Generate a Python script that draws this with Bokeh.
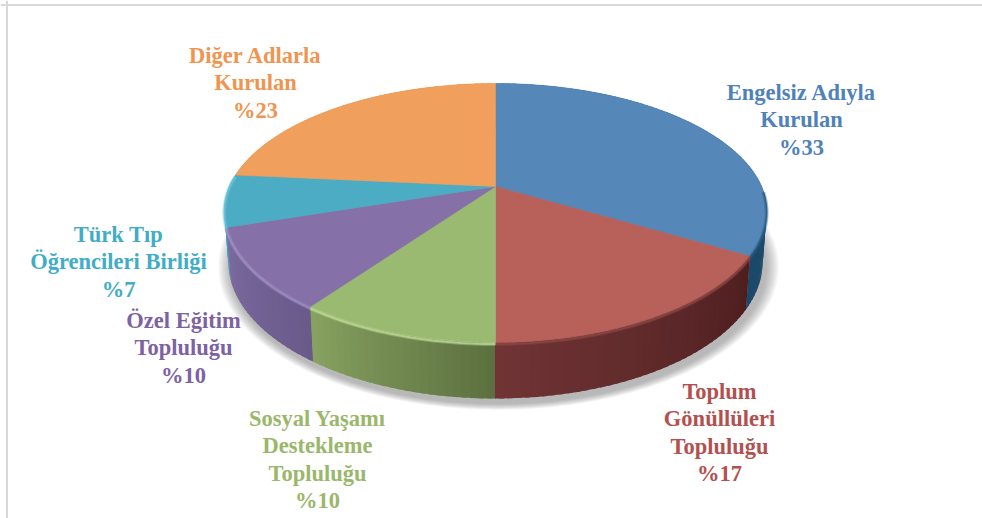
from math import sin, cos, radians
from bokeh.plotting import figure
from bokeh.models import Span
from bokeh.core.properties import value
from bokeh.embed import file_html
from bokeh.resources import INLINE

categories = ["Engelsiz Adıyla Kurulan", "Toplum Gönüllüleri Topluluğu",
              "Sosyal Yaşamı Destekleme Topluluğu", "Özel Eğitim Topluluğu",
              "Türk Tıp Öğrencileri Birliği", "Diğer Adlarla Kurulan"]
# slice sizes as measured in the picture (the printed labels round them)
shares = [33.4, 16.6, 10, 10, 6.5, 23.5]
label_lines = [["Engelsiz Adıyla", "Kurulan", "%33"],
               ["Toplum", "Gönüllüleri", "Topluluğu", "%17"],
               ["Sosyal Yaşamı", "Destekleme", "Topluluğu", "%10"],
               ["Özel Eğitim", "Topluluğu", "%10"],
               ["Türk Tıp", "Öğrencileri Birliği", "%7"],
               ["Diğer Adlarla", "Kurulan", "%23"]]

face_colors = ["#5587b8", "#b8615b", "#9aba72", "#8571a8", "#4bacc3", "#f0a05c"]
label_colors = ["#4f82b8", "#b3504f", "#9ab76c", "#7d62a3", "#3fadc6", "#f0944f"]
wall_from = ["#2f6389", "#4e1e1f", "#5c703f", "#6a5a8a", "#3f9fb6", "#c98448"]
wall_to = ["#1b4868", "#703435", "#87a261", "#7b6ba0", "#3f9fb6", "#c98448"]
rim_colors = ["#2a5c82", "#8f4744", "#c3df9a", "#a591c9", "#6cc4d8", "#f0a05c"]
label_anchor = [(801, 92), (719, 391), (317, 418), (183, 320), (118, 234), (255, 55)]
line_gap = 27.4

CX, CY, A, B, P = 495, 186, 266.2, 124.1, 0.2046


def top(theta):
    u, v = sin(radians(theta)), -cos(radians(theta))
    d = 1 - P * v
    squeeze = 1 - 0.015 * max(v, 0)
    return CX + A * u / d * squeeze, CY + B * v / d


def bottom(theta):
    x, y = top(theta)
    v = -cos(radians(theta))
    return CX + (x - CX) * 0.985, y + 50 + 6 * v


def hex_mix(c1, c2, t):
    a = [int(c1[i:i + 2], 16) for i in (1, 3, 5)]
    b = [int(c2[i:i + 2], 16) for i in (1, 3, 5)]
    return "#%02x%02x%02x" % tuple(round(a[i] + (b[i] - a[i]) * t) for i in range(3))


p = figure(width=982, height=518, x_range=(0, 982), y_range=(518, 0),
           output_backend="svg", toolbar_location=None, min_border=0)
p.axis.visible = False
p.grid.visible = False
p.outline_line_color = None
p.background_fill_color = "#ffffff"
p.add_layout(Span(location=6.5, dimension="height", line_color="#d8d8d8", line_width=2))
p.add_layout(Span(location=4.5, dimension="width", line_color="#d8d8d8", line_width=2))

# slice boundaries in degrees, clockwise from the top
edges = [0]
for s in shares:
    edges.append(edges[-1] + s * 360 / sum(shares))

# soft shadow
ring = [bottom(t) for t in range(0, 360, 3)]
for k in range(14, 0, -1):
    f = 1 + k * 0.0036
    xs = [CX + 3 + (x - CX) * f for x, y in ring]
    ys = [270 + 5 + (y - 270) * f for x, y in ring]
    p.patch(xs, ys, fill_color="#606060", fill_alpha=0.04, line_color=None)

# side walls, back to front; each strip runs a little under its neighbour to avoid seams
segs = []
for i in range(len(shares)):
    a0, a1 = edges[i], edges[i + 1]
    n = max(2, int((a1 - a0) / 1.5))
    step = (a1 - a0) / n
    for j in range(n):
        t0 = a0 + step * j
        t1 = min(t0 + step * 1.6, a1 + 0.1)
        pts = [top(t0), top(t1), bottom(t1), bottom(t0)]
        col = hex_mix(wall_from[i], wall_to[i], (j + .5) / n)
        segs.append((t0, pts, col))
# left half (past 180 degrees) must be painted from the back to the front
right = [s for s in segs if s[0] < 180]
left = sorted((s for s in segs if s[0] >= 180), key=lambda s: -s[0])
# rebuild left strips so that they overlap towards the front
left_fixed = []
for i in range(len(shares)):
    a0, a1 = edges[i], edges[i + 1]
    if a0 < 180:
        continue
    n = max(2, int((a1 - a0) / 1.5))
    step = (a1 - a0) / n
    for j in range(n):
        t1 = a0 + step * (j + 1)
        t0 = max(t1 - step * 1.6, a0 - 0.1)
        pts = [top(t0), top(t1), bottom(t1), bottom(t0)]
        left_fixed.append((t1, pts, hex_mix(wall_from[i], wall_to[i], (j + .5) / n)))
left_fixed.sort(key=lambda s: -s[0])
ordered = left_fixed + right
p.patches([[q[0] for q in s[1]] for s in ordered], [[q[1] for q in s[1]] for s in ordered],
          fill_color=[s[2] for s in ordered], line_color=None)

# top faces
for i in range(len(shares)):
    a0, a1 = edges[i], edges[i + 1]
    n = max(2, int(a1 - a0))
    rim = [top(a0 + (a1 - a0) * j / n) for j in range(n + 1)]
    p.patch([CX] + [q[0] for q in rim], [CY] + [q[1] for q in rim],
            fill_color=face_colors[i], line_color=face_colors[i], line_width=0.5)

# bevel along the front rim
for i in range(5):
    a0, a1 = max(edges[i], 92), edges[i + 1]
    n = max(2, int(a1 - a0))
    rim = [top(a0 + (a1 - a0) * j / n) for j in range(n + 1)]
    xs = [q[0] for q in rim]
    ys = [q[1] + 1.5 for q in rim]
    p.line(xs, ys, line_color=rim_colors[i], line_width=4, line_alpha=0.35)
    p.line(xs, ys, line_color=rim_colors[i], line_width=2, line_alpha=0.7)

# labels
for lines, (x, y), c in zip(label_lines, label_anchor, label_colors):
    p.text([x] * len(lines), [y + k * line_gap for k in range(len(lines))], text=lines,
           text_font=value("Liberation Serif"), text_font_style="bold", text_font_size="22.5px",
           text_color=c, text_align="center", text_baseline="middle")

open("out.html", "w").write(file_html(p, INLINE))
